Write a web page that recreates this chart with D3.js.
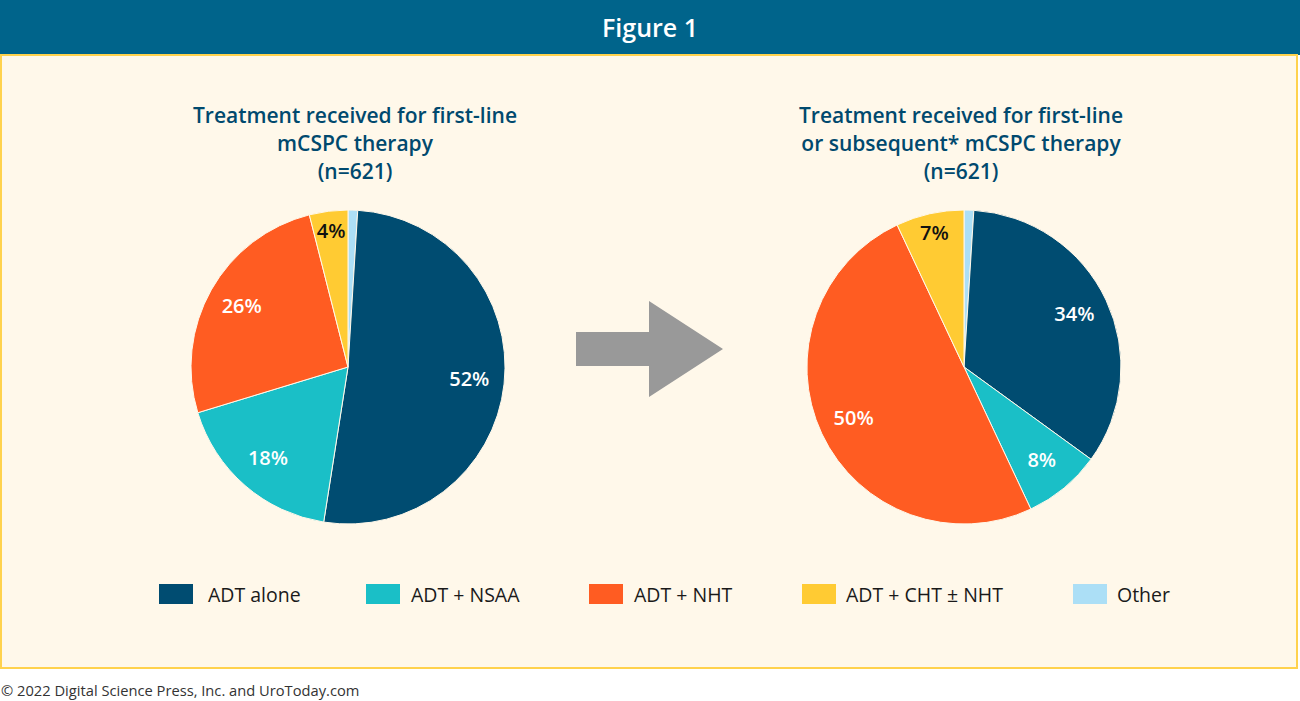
<!DOCTYPE html>
<html>
<head>
<meta charset="utf-8">
<script src="https://cdn.jsdelivr.net/npm/d3@7"></script>
<style>
  body { margin: 0; background: #fff; }
  svg { display: block; font-family: "Open Sans", "Noto Sans", sans-serif; }
</style>
</head>
<body>
<div id="vis"></div>
<script>
const width = 1300, height = 701;

// categories in drawing order (clockwise from 12 o'clock)
const categories = ['Other', 'ADT alone', 'ADT + NSAA', 'ADT + NHT', 'ADT + CHT ± NHT'];
const legendOrder = ['ADT alone', 'ADT + NSAA', 'ADT + NHT', 'ADT + CHT ± NHT', 'Other'];
const colors = ['#acdff6', '#004c71', '#1abfc7', '#ff5c22', '#ffcb33'];

const firstLineValues = [1, 52, 18, 26, 4];
const subsequentValues = [1, 34, 8, 50, 7];
const firstLineLabels = ['', '52%', '18%', '26%', '4%'];
const subsequentLabels = ['', '34%', '8%', '50%', '7%'];

const leftTitle = ['Treatment received for first-line', 'mCSPC therapy', '(n=621)'];
const rightTitle = ['Treatment received for first-line', 'or subsequent* mCSPC therapy', '(n=621)'];

const colorScale = d3.scaleOrdinal(categories, colors);

const svg = d3.select('#vis')
  .append('svg')
  .attr('width', width)
  .attr('height', height);

// header bar
svg.append('rect')
  .attr('x', 0).attr('y', 0)
  .attr('width', width).attr('height', 55)
  .attr('fill', '#00648b');
svg.append('text')
  .attr('x', 650).attr('y', 37)
  .attr('text-anchor', 'middle')
  .attr('fill', '#fff')
  .style('font-size', '25px')
  .style('font-weight', 600)
  .text('Figure 1');

// panel
svg.append('rect')
  .attr('x', 1).attr('y', 55)
  .attr('width', 1296).attr('height', 613)
  .attr('fill', '#fff8ea')
  .attr('stroke', '#ffd24d')
  .attr('stroke-width', 2);

function drawPie(cx, cy, values, labels, title, titleX){
  const g = svg.append('g').attr('transform', `translate(${cx},${cy})`);
  const r = 157;
  const pie = d3.pie().sort(null).value(d => d.value);
  const data = pie(categories.map((c, i) => ({cat: c, value: values[i], label: labels[i]})));
  const arc = d3.arc().innerRadius(0).outerRadius(r);

  g.selectAll('path')
    .data(data)
    .join('path')
    .attr('d', arc)
    .attr('fill', d => colorScale(d.data.cat))
    .attr('stroke', '#fff8ea')
    .attr('stroke-width', 1);

  g.selectAll('.lbl')
    .data(data.filter(d => d.data.label))
    .join('text')
    .attr('class', 'lbl')
    .attr('transform', d => {
      const small = d.data.value < 8;
      const lr = small ? 136 : 122;
      const a = (d.startAngle + d.endAngle) / 2;
      return `translate(${lr * Math.sin(a)},${-lr * Math.cos(a) + 6})`;
    })
    .attr('text-anchor', 'middle')
    .attr('fill', d => d.data.value < 8 ? '#111' : '#fff')
    .style('font-size', '20px')
    .style('font-weight', 600)
    .text(d => d.data.label);

  svg.append('text')
    .attr('x', titleX).attr('y', 123)
    .attr('text-anchor', 'middle')
    .attr('fill', '#00496e')
    .style('font-size', '21px')
    .style('font-weight', 600)
    .selectAll('tspan')
    .data(title)
    .join('tspan')
    .attr('x', titleX)
    .attr('dy', (d, i) => i === 0 ? 0 : 28)
    .text(d => d);
}

drawPie(348, 367, firstLineValues, firstLineLabels, leftTitle, 355);
drawPie(964, 367, subsequentValues, subsequentLabels, rightTitle, 961);

// arrow
svg.append('path')
  .attr('d', 'M576,332 L649,332 L649,301 L723,349 L649,397 L649,366 L576,366 Z')
  .attr('fill', '#999999');

// legend
const legendX = [159, 366, 589, 802, 1073];
const legendTextX = [208, 411, 634, 846, 1117];
const lg = svg.selectAll('.legend')
  .data(legendOrder)
  .join('g')
  .attr('class', 'legend')
  .attr('transform', (d, i) => `translate(${legendX[i]},584)`);
lg.append('rect')
  .attr('width', 34).attr('height', 20)
  .attr('fill', d => colorScale(d));
lg.append('text')
  .attr('x', (d, i) => legendTextX[i] - legendX[i]).attr('y', 18)
  .attr('fill', '#1a1a1a')
  .style('font-size', '19.5px')
  .text(d => d);

// footer
svg.append('text')
  .attr('x', 1).attr('y', 696)
  .attr('fill', '#333')
  .style('font-size', '14.7px')
  .text('© 2022 Digital Science Press, Inc. and UroToday.com');
</script>
</body>
</html>
